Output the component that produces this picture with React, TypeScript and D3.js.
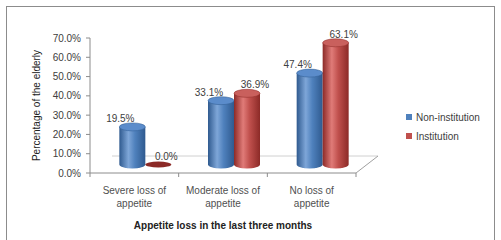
import React from "react";
import * as d3 from "d3";

const categories = [
  ["Severe loss of", "appetite"],
  ["Moderate loss of", "appetite"],
  ["No loss of", "appetite"],
];
const seriesNames = ["Non-institution", "Institution"];
const nonInstitution = [19.5, 33.1, 47.4];
const institution = [0.0, 36.9, 63.1];
const yTicks = [0, 10, 20, 30, 40, 50, 60, 70];

const W = 501,
  H = 240;
const left = 90,
  right = 356,
  top = 38,
  bottom = 173;
const depthX = 22,
  depthY = -17;
const colors = [
  { dark: "#2f5a8f", mid: "#4f81bd", light: "#7ea6d8", topFill: "#5b8ccb" },
  { dark: "#8c2a27", mid: "#c0504d", light: "#e07b78", topFill: "#c9605d" },
];
const font = "'Liberation Sans', Arial, sans-serif";

export default function App() {
  const x = d3
    .scaleBand<number>()
    .domain(categories.map((_, i) => i))
    .range([left, right]);
  const y = d3.scaleLinear().domain([0, 70]).range([bottom, top]);
  const inner = d3
    .scaleBand<number>()
    .domain([0, 1])
    .range([0, 52]);

  const series = [nonInstitution, institution];
  const ry = 4;
  const labelShift = [-12, 8];

  return (
    <svg
      width={W}
      height={H}
      style={{ position: "absolute", left: 0, top: 0, background: "#fff" }}
    >
      <defs>
        {colors.map((c, i) => (
          <linearGradient key={i} id={`g${i}`} x1="0" x2="1" y1="0" y2="0">
            <stop offset="0" stopColor={c.dark} />
            <stop offset="0.35" stopColor={c.light} />
            <stop offset="0.6" stopColor={c.mid} />
            <stop offset="1" stopColor={c.dark} />
          </linearGradient>
        ))}
      </defs>
      <rect x={6.5} y={6.5} width={488} height={240} fill="#fff" stroke="#8c8c8c" />

      {/* floor */}
      <line x1={left + depthX} x2={right + depthX} y1={bottom + depthY} y2={bottom + depthY} stroke="#d0d0d0" />
      <line x1={right} x2={right + depthX} y1={bottom} y2={bottom + depthY} stroke="#a0a0a0" />
      <line x1={left} x2={right} y1={bottom} y2={bottom} stroke="#8c8c8c" />
      <line x1={left} x2={left} y1={top} y2={bottom} stroke="#8c8c8c" />
      {yTicks.map((t) => (
        <g key={t}>
          <line x1={left - 4} x2={left} y1={y(t)} y2={y(t)} stroke="#8c8c8c" />
          <text
            x={left - 9}
            y={y(t) + 3.5}
            textAnchor="end"
            fontSize={10}
            fontFamily={font}
            fill="#404040"
          >
            {t.toFixed(1) + "%"}
          </text>
        </g>
      ))}
      {categories.map((_, i) => (
        <line key={i} x1={x(i)! + x.bandwidth()} x2={x(i)! + x.bandwidth()} y1={bottom} y2={bottom + 4} stroke="#8c8c8c" />
      ))}
      <line x1={left} x2={left} y1={bottom} y2={bottom + 4} stroke="#8c8c8c" />

      {/* cylinders */}
      {categories.map((_, ci) =>
        series.map((vals, si) => {
          const v = vals[ci];
          const cx0 = x(ci)! + x.bandwidth() / 2 + depthX / 2 - 26;
          const bx = cx0 + inner(si)!;
          const bw = inner.bandwidth();
          const base = y(0) + depthY / 2;
          const topY = base - (y(0) - y(v));
          const cx = bx + bw / 2;
          const c = colors[si];
          return (
            <g key={`${ci}-${si}`}>
              {v > 0 ? (
                <>
                  <path
                    d={`M${bx},${topY} L${bx},${base} A${bw / 2},${ry} 0 0 0 ${bx + bw},${base} L${bx + bw},${topY} Z`}
                    fill={`url(#g${si})`}
                  />
                  <ellipse cx={cx} cy={topY} rx={bw / 2} ry={ry} fill={c.topFill} stroke={c.dark} strokeWidth={0.5} />
                </>
              ) : (
                <ellipse cx={cx} cy={base} rx={bw / 2} ry={ry - 1} fill={c.dark} />
              )}
              <text
                x={cx + labelShift[si]}
                y={topY - 5}
                textAnchor="middle"
                fontSize={10}
                fontFamily={font}
                fill="#404040"
              >
                {v.toFixed(1) + "%"}
              </text>
            </g>
          );
        })
      )}

      {/* category labels */}
      {categories.map((lines, i) => (
        <text
          key={i}
          x={x(i)! + x.bandwidth() / 2}
          textAnchor="middle"
          fontSize={10}
          fontFamily={font}
          fill="#505050"
        >
          {lines.map((l, j) => (
            <tspan key={j} x={x(i)! + x.bandwidth() / 2} y={194 + j * 13}>
              {l}
            </tspan>
          ))}
        </text>
      ))}

      <text x={223} y={229} textAnchor="middle" fontSize={10} fontWeight="bold" fontFamily={font} fill="#222">
        Appetite loss in the last three months
      </text>
      <text
        transform={`translate(40, ${(top + bottom) / 2}) rotate(-90)`}
        textAnchor="middle"
        fontSize={10}
        fontFamily={font}
        fill="#222"
      >
        Percentage of the elderly
      </text>

      {/* legend */}
      {seriesNames.map((n, i) => (
        <g key={n} transform={`translate(406, ${114 + i * 19})`}>
          <rect x={0} y={0} width={6} height={6} fill={colors[i].mid} />
          <text x={10} y={6.5} fontSize={10} fontFamily={font} fill="#404040">
            {n}
          </text>
        </g>
      ))}
    </svg>
  );
}
